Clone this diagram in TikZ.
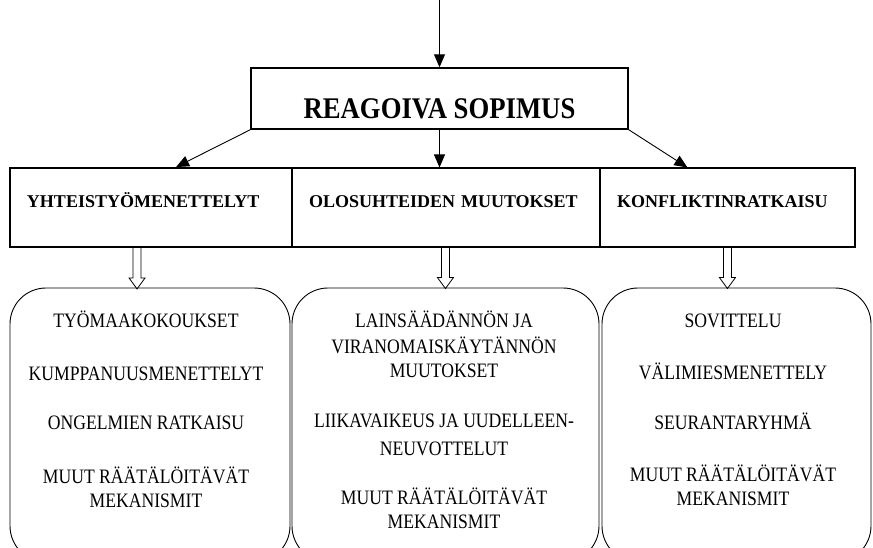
\documentclass[tikz,border=0pt]{standalone}
\usepackage{fontspec}
\setmainfont{Liberation Serif}
\newfontfamily\itemfont[FakeStretch=0.86]{Liberation Serif}
\newfontfamily\topfont[FakeStretch=0.89]{Liberation Serif}
\usetikzlibrary{arrows.meta,calc}
\begin{document}
\begin{tikzpicture}[x=1pt,y=-1pt,
 arr/.style={-{Triangle[length=13pt,width=11pt]},line width=0.9pt},
 cell/.style={draw,line width=1.1pt,minimum height=79pt,inner xsep=17pt,inner ysep=0pt,text height=0pt,text depth=0pt,align=left,font=\fontsize{18}{21}\selectfont\bfseries},
 rbox/.style={draw,line width=0.9pt,rounded corners=36pt,minimum height=274pt,inner sep=0pt},
 ln/.style={inner sep=0pt,text height=13.6pt,text depth=0pt,font=\itemfont\fontsize{20.5}{25}\selectfont},
 hol/.style={line width=0.8pt},
 hollow/.pic={\draw[hol] (-4,0) -- (-4,30) -- (-8,30) -- (0,41) -- (8,30) -- (4,30) -- (4,0);}]
\clip (0,0) rectangle (873,547);
\node[draw,line width=1.4pt,minimum width=377pt,minimum height=61pt,inner sep=0pt,text height=39pt,text depth=0pt,font=\topfont\fontsize{30}{34}\selectfont\bfseries] (top) at (439.5,98.5) {REAGOIVA SOPIMUS};
\node[cell,text width=274pt] (ol) at (446,207.5) {OLOSUHTEIDEN MUUTOKSET};
\node[cell,text width=221pt] (ko) at (727.5,207.5) {KONFLIKTINRATKAISU};
\node[cell,line width=1.9pt,text width=248pt] (yh) at (151,207.5) {YHTEISTYÖMENETTELYT};
\node[rbox,minimum width=280pt] (rb1) at (150,425) {};
\node[rbox,minimum width=307pt] (rb2) at (445.5,425) {};
\node[rbox,minimum width=269pt] (rb3) at (736.5,425) {};
\coordinate (src) at (439.5,0);
\draw[arr] (src) -- (top.north);
\draw[arr] (top.south west) -- ($(yh.north west)+(167,0)$);
\draw[arr] (top.south) -- (top.south |- ol.north);
\draw[arr] (top.south east) -- ($(ko.north west)+(88,0)$);
\pic at ($(yh.south west)+(128,0)$) {hollow};
\pic at ($(ol.south west)+(154,0)$) {hollow};
\pic at ($(ko.south west)+(128,0)$) {hollow};
\node[ln] (a1) at (146,321) {TYÖMAAKOKOUKSET};
\node[ln] (a2) at (146,374) {KUMPPANUUSMENETTELYT};
\node[ln] (a3) at (146,422.5) {ONGELMIEN RATKAISU};
\node[ln] (a4) at (146,477) {MUUT RÄÄTÄLÖITÄVÄT};
\node[ln] (a5) at (146,501) {MEKANISMIT};
\node[ln] (b1) at (444,321) {LAINSÄÄDÄNNÖN JA};
\node[ln] (b2) at (444,346.5) {VIRANOMAISKÄYTÄNNÖN};
\node[ln] (b3) at (444,371) {MUUTOKSET};
\node[ln] (b4) at (444,421) {LIIKAVAIKEUS JA UUDELLEEN-};
\node[ln] (b5) at (444,449) {NEUVOTTELUT};
\node[ln] (b6) at (444,497.5) {MUUT RÄÄTÄLÖITÄVÄT};
\node[ln] (b7) at (444,521.5) {MEKANISMIT};
\node[ln] (c1) at (733,321) {SOVITTELU};
\node[ln] (c2) at (733,372.5) {VÄLIMIESMENETTELY};
\node[ln] (c3) at (733,422.5) {SEURANTARYHMÄ};
\node[ln] (c4) at (733,475) {MUUT RÄÄTÄLÖITÄVÄT};
\node[ln] (c5) at (733,499) {MEKANISMIT};
\end{tikzpicture}
\end{document}
